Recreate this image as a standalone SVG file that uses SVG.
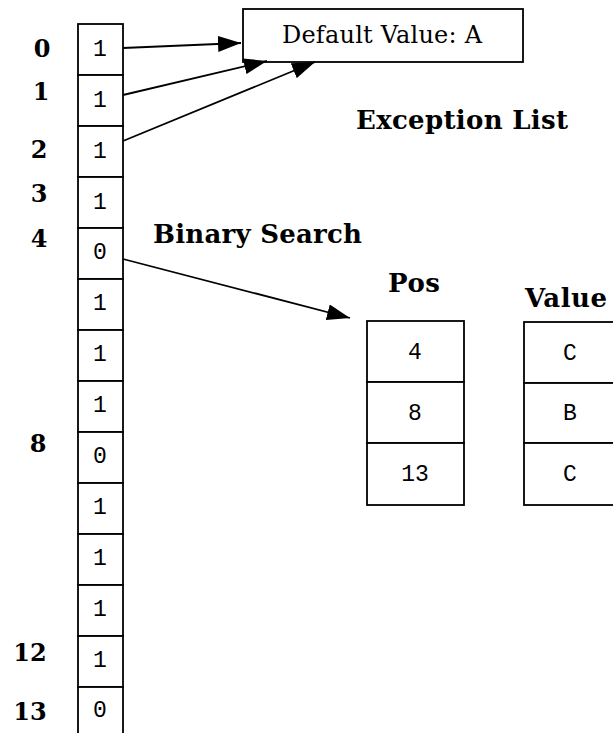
<svg xmlns="http://www.w3.org/2000/svg" width="613" height="733" viewBox="0 0 613 733">
  <defs>
    <marker id="arrow" markerUnits="userSpaceOnUse" markerWidth="24" markerHeight="16" refX="23" refY="8" orient="auto">
      <path d="M0,0 L23,8 L0,16 Z" fill="#000"/>
    </marker>
    <style>
      .box { fill: #fff; stroke: #000; stroke-width: 1.8; }
      .bit { font-family: "Liberation Mono", "DejaVu Sans Mono", monospace; font-size: 23px; text-anchor: middle; fill: #000; }
      .idx { font-family: "DejaVu Serif", "Liberation Serif", serif; font-weight: bold; font-size: 24px; text-anchor: middle; fill: #000; }
      .title { font-family: "DejaVu Serif", "Liberation Serif", serif; font-weight: bold; font-size: 26px; fill: #000; }
      .label { font-family: "DejaVu Serif", "Liberation Serif", serif; font-size: 24px; text-anchor: middle; fill: #000; }
      .conn { stroke: #000; stroke-width: 1.8; fill: none; marker-end: url(#arrow); }
    </style>
  </defs>
  <rect width="613" height="733" fill="#fff"/>

  <!-- bitmap column -->
  <g id="bitmap">
    <rect class="box" x="78" y="24" width="45" height="51"/>
    <rect class="box" x="78" y="75" width="45" height="51"/>
    <rect class="box" x="78" y="126" width="45" height="51"/>
    <rect class="box" x="78" y="177" width="45" height="51"/>
    <rect class="box" x="78" y="228" width="45" height="51"/>
    <rect class="box" x="78" y="279" width="45" height="51"/>
    <rect class="box" x="78" y="330" width="45" height="51"/>
    <rect class="box" x="78" y="381" width="45" height="51"/>
    <rect class="box" x="78" y="432" width="45" height="51"/>
    <rect class="box" x="78" y="483" width="45" height="51"/>
    <rect class="box" x="78" y="534" width="45" height="51"/>
    <rect class="box" x="78" y="585" width="45" height="51"/>
    <rect class="box" x="78" y="636" width="45" height="51"/>
    <rect class="box" x="78" y="687" width="45" height="60"/>
    <text class="bit" x="100" y="56">1</text>
    <text class="bit" x="100" y="107">1</text>
    <text class="bit" x="100" y="158">1</text>
    <text class="bit" x="100" y="209">1</text>
    <text class="bit" x="100" y="259">0</text>
    <text class="bit" x="100" y="310">1</text>
    <text class="bit" x="100" y="361">1</text>
    <text class="bit" x="100" y="412">1</text>
    <text class="bit" x="100" y="463">0</text>
    <text class="bit" x="100" y="514">1</text>
    <text class="bit" x="100" y="565">1</text>
    <text class="bit" x="100" y="616">1</text>
    <text class="bit" x="100" y="667">1</text>
    <text class="bit" x="100" y="717">0</text>
  </g>

  <!-- row indices -->
  <g id="indices">
    <text class="idx" x="42" y="57">0</text>
    <text class="idx" x="41" y="100">1</text>
    <text class="idx" x="39" y="158">2</text>
    <text class="idx" x="39" y="202">3</text>
    <text class="idx" x="39" y="247">4</text>
    <text class="idx" x="38" y="452">8</text>
    <text class="idx" x="30" y="661">12</text>
    <text class="idx" x="30" y="720">13</text>
  </g>

  <!-- default value box -->
  <g id="default">
    <rect class="box" x="243" y="9" width="280" height="53"/>
    <text class="label" x="382" y="43" textLength="200" lengthAdjust="spacing">Default Value: A</text>
  </g>

  <!-- headings -->
  <g id="heading-exceptions">
    <text class="title" x="356" y="129" textLength="212" lengthAdjust="spacing">Exception List</text>
  </g>
  <g id="heading-search">
    <text class="title" x="153" y="243" textLength="209" lengthAdjust="spacing">Binary Search</text>
  </g>

  <!-- exception positions -->
  <g id="pos">
    <text class="title" x="388" y="292" textLength="52" lengthAdjust="spacing">Pos</text>
    <rect class="box" x="367" y="321" width="97" height="61"/>
    <rect class="box" x="367" y="382" width="97" height="61"/>
    <rect class="box" x="367" y="443" width="97" height="62"/>
    <text class="bit" x="415" y="359">4</text>
    <text class="bit" x="415" y="420">8</text>
    <text class="bit" x="415" y="481">13</text>
  </g>

  <!-- exception values -->
  <g id="value">
    <text class="title" x="525" y="307" textLength="82" lengthAdjust="spacing">Value</text>
    <rect class="box" x="524" y="322" width="97" height="61"/>
    <rect class="box" x="524" y="383" width="97" height="60"/>
    <rect class="box" x="524" y="443" width="97" height="62"/>
    <text class="bit" x="570" y="360">C</text>
    <text class="bit" x="570" y="420">B</text>
    <text class="bit" x="570" y="481">C</text>
  </g>

  <!-- connectors -->
  <g id="connectors">
    <line class="conn" x1="123" y1="48" x2="241" y2="43"/>
    <line class="conn" x1="123" y1="95" x2="267" y2="61"/>
    <line class="conn" x1="123" y1="141" x2="315" y2="62"/>
    <line class="conn" x1="123" y1="259" x2="350" y2="318"/>
  </g>
</svg>
